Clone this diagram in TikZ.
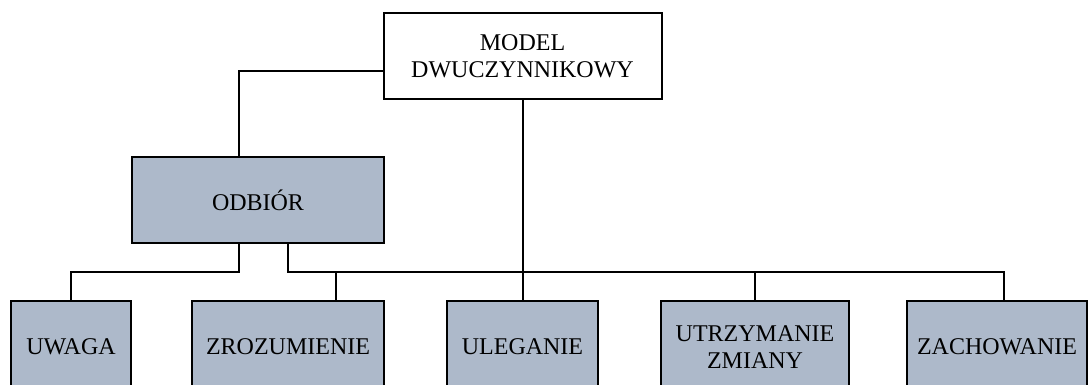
\documentclass[tikz,border=0pt]{standalone}
\usepackage{fontspec}
\setmainfont{Liberation Serif}
\definecolor{boxfill}{RGB}{173,185,202}
\begin{document}
\begin{tikzpicture}[x=1pt,y=-1pt,
  box/.style={draw=black,line width=2pt,fill=boxfill,inner sep=0pt,outer sep=0pt,
    align=center,font=\fontsize{24}{27}\selectfont},
  link/.style={draw=black,line width=2pt}]
\useasboundingbox (0,0) rectangle (1089,385);
\clip (0,0) rectangle (1089,385);
% top level
\node[box,fill=white,minimum width=278pt,minimum height=86pt] (model) at (522.5,56) {MODEL\\DWUCZYNNIKOWY};
\node[box,minimum width=252pt,minimum height=86pt] (odbior) at (258,200) {ODBIÓR};
% bottom row
\node[box,minimum width=120pt,minimum height=92pt] (uwaga) at (71,347) {UWAGA};
\node[box,minimum width=192pt,minimum height=92pt] (zroz) at (288,347) {ZROZUMIENIE};
\node[box,minimum width=151pt,minimum height=92pt] (uleg) at (522.5,347) {ULEGANIE};
\node[box,minimum width=188pt,minimum height=92pt] (utrz) at (755,347) {UTRZYMANIE\\ZMIANY};
\node[box,minimum width=180pt,minimum height=92pt] (zach) at (997,347) {ZACHOWANIE};
% junction points
\coordinate (k) at (239,71);
\coordinate (a) at (239,272);
\coordinate (b) at (288,272);
\coordinate (c) at (336,272);
\coordinate (d) at (755,272);
\coordinate (e) at (1004,272);
% connectors
\draw[link] (model.west |- k) -| (k |- odbior.north);
\draw[link] (model) -- (uleg);
\draw[link] (a |- odbior.south) -- (a) -| (uwaga.north);
\draw[link] (b |- odbior.south) -- (b) -- (e) -- (e |- zach.north);
\draw[link] (c) -- (c |- zroz.north);
\draw[link] (d) -- (d |- utrz.north);
\end{tikzpicture}
\end{document}
